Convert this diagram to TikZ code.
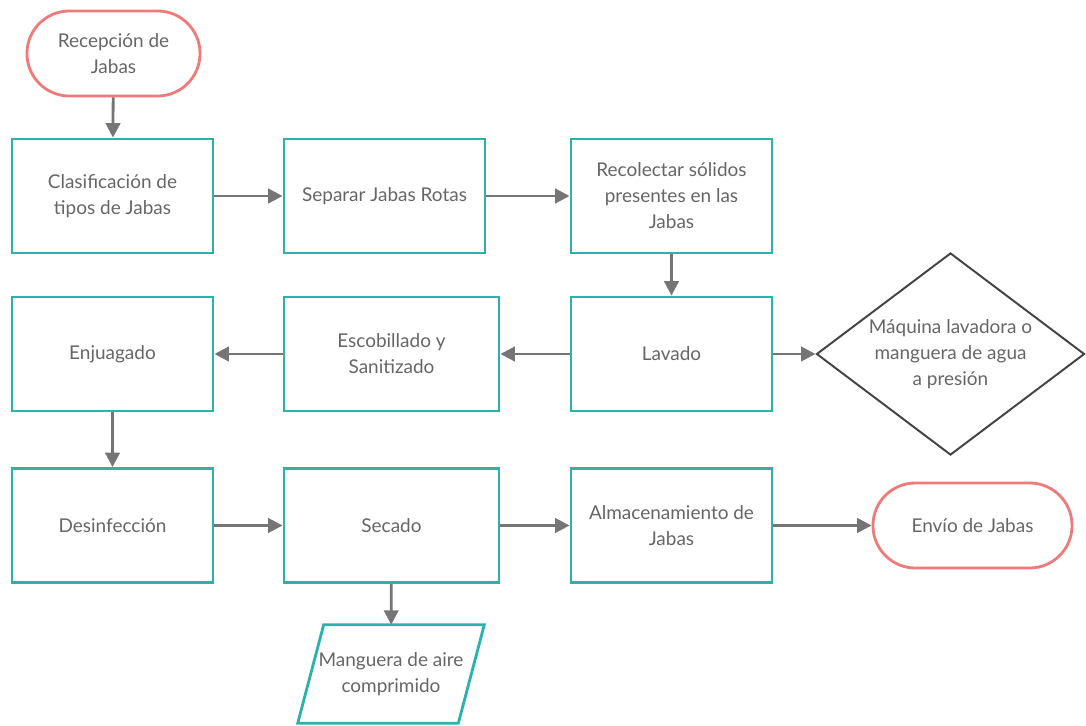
\documentclass[tikz,border=0pt]{standalone}
\usepackage{fontspec}
\setmainfont{Lato}
\usepackage{tikz}
\usetikzlibrary{arrows.meta, shapes.geometric, calc}
\definecolor{steal}{RGB}{43, 178, 172}
\definecolor{spink}{RGB}{240, 122, 122}
\definecolor{sgray}{RGB}{117, 117, 117}
\definecolor{stext}{RGB}{102, 102, 102}
\definecolor{sdark}{RGB}{68, 68, 68}

\begin{document}
\begin{tikzpicture}[
    x=0.025cm, y=-0.025cm,
    every node/.style={text=stext,align=center,font=\fontsize{13.5}{18.5}\selectfont},
    box/.style={rectangle,draw=steal,line width=2pt,fill=white,minimum width=5.025cm,minimum height=2.85cm},
    widebox/.style={box,minimum width=5.375cm},
    term/.style={rectangle,draw=spink,line width=2pt,fill=white,rounded corners=1.06cm,minimum height=2.125cm},
    decision/.style={diamond,aspect=1.32,draw=sdark,line width=1.4pt,fill=white,minimum width=6.7cm,minimum height=5.05cm,inner sep=0pt},
    paratext/.style={inner sep=0pt,minimum width=4.65cm,minimum height=2.45cm},
    parabox/.style={draw=steal,line width=2pt,line join=miter},
    flow/.style={-{Triangle[length=0.36cm,width=0.36cm]},draw=sgray,line width=2pt}
  ]

  \useasboundingbox (0,0) rectangle (1086,725);

  \def \slant {26}

  \node[term,minimum width=4.325cm] (recepcion) at (113.5,53.5) {Recepción de\\Jabas};

  \node[box] (clasif) at (112.5,196) {Clasificación de\\tipos de Jabas};
  \node[box] (separar) at (384.5,196) {Separar Jabas Rotas};
  \node[box] (recolectar) at (671.5,196) {Recolectar sólidos\\presentes en las\\Jabas};

  \node[box] (enjuagado) at (112.5,354) {Enjuagado};
  \node[widebox] (escobillado) at (391.5,354) {Escobillado y\\Sanitizado};
  \node[box] (lavado) at (671.5,354) {Lavado};
  \node[decision] (maquina) at (950.5,354) {Máquina lavadora o\\manguera de agua\\a presión};

  \node[box] (desinf) at (112.5,525.5) {Desinfección};
  \node[widebox] (secado) at (391.5,525.5) {Secado};
  \node[box] (almacen) at (671.5,525.5) {Almacenamiento de\\Jabas};
  \node[term,minimum width=4.975cm] (envio) at (972.5,525.5) {Envío de Jabas};

  \node[paratext] (manguera) at (391,674) {Manguera de aire\\comprimido};
  \draw[parabox] (manguera.south west) -- ($(manguera.north west)+(\slant,0)$)
    -- (manguera.north east) -- ($(manguera.south east)-(\slant,0)$) -- cycle;

  \draw[flow] (recepcion) -- (clasif);
  \draw[flow] (clasif) -- (separar);
  \draw[flow] (separar) -- (recolectar);
  \draw[flow] (recolectar) -- (lavado);
  \draw[flow] (lavado) -- (escobillado);
  \draw[flow] (lavado) -- (maquina);
  \draw[flow] (escobillado) -- (enjuagado);
  \draw[flow] (enjuagado) -- (desinf);
  \draw[flow] (desinf) -- (secado);
  \draw[flow] (secado) -- (almacen);
  \draw[flow] (almacen) -- (envio);
  \draw[flow] (secado) -- (manguera);

\end{tikzpicture}
\end{document}
